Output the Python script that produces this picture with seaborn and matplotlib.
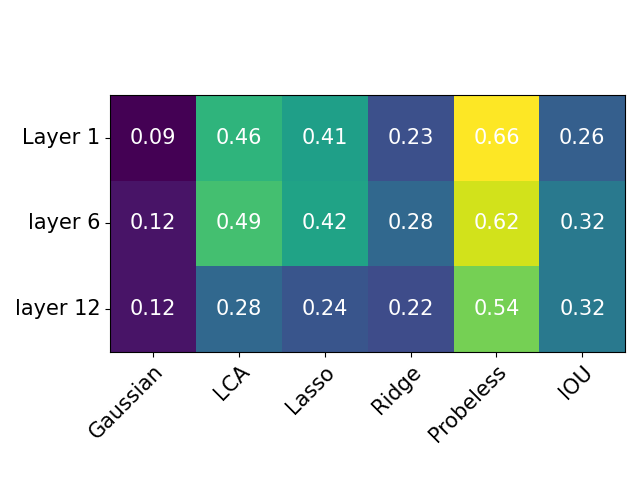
import matplotlib
matplotlib.use("Agg")
import matplotlib.pyplot as plt
import numpy as np
import seaborn as sns

methods = ["Gaussian", "LCA", "Lasso", "Ridge", "Probeless", "IOU"]
layers = ["Layer 1", "layer 6", "layer 12"]
layer1 = [0.09, 0.46, 0.41, 0.23, 0.66, 0.26]
layer6 = [0.12, 0.49, 0.42, 0.28, 0.62, 0.32]
layer12 = [0.12, 0.28, 0.24, 0.22, 0.54, 0.32]

scores = np.array([layer1, layer6, layer12])

fig = plt.figure(figsize=(6.4, 4.8), dpi=100)
ax = fig.add_axes([0.172, 0.267, 0.805, 0.535])
sns.heatmap(scores, ax=ax, cmap="viridis", cbar=False, annot=True, fmt=".2f",
            annot_kws={"color": "white", "fontsize": 15},
            xticklabels=methods, yticklabels=layers)
for s in ax.spines.values():
    s.set_visible(True)
    s.set_color("black")
    s.set_linewidth(0.8)
ax.set_xticklabels(methods, rotation=45, ha="right", rotation_mode="anchor", fontsize=15)
ax.set_yticklabels(layers, rotation=0, fontsize=15)
ax.tick_params(length=3.5, width=0.8)

fig.savefig("out.png", dpi=100)
